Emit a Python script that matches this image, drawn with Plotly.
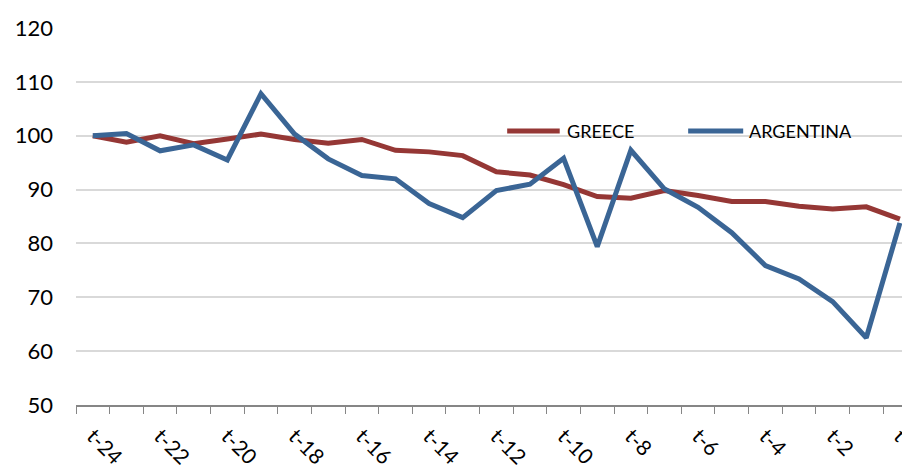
import plotly.graph_objects as go

periods = [f"t-{k}" for k in range(24, 0, -1)] + ["t"]

greece = [100.0, 98.8, 100.0, 98.5, 99.4, 100.3, 99.3, 98.6, 99.3, 97.3, 97.0, 96.3,
          93.3, 92.7, 90.9, 88.7, 88.4, 89.8, 88.9, 87.8, 87.8, 86.9, 86.4, 86.8, 84.5]
argentina = [100.0, 100.4, 97.2, 98.3, 95.5, 107.8, 100.3, 95.7, 92.6, 92.0, 87.4, 84.8,
             89.8, 91.0, 95.8, 79.4, 97.3, 90.1, 86.7, 82.0, 75.9, 73.4, 69.2, 62.5, 83.8]

series = [("GREECE", greece, "#953735"), ("ARGENTINA", argentina, "#3a6595")]

xs = list(range(len(periods)))
fig = go.Figure()
for name, vals, color in series:
    fig.add_trace(go.Scatter(x=xs, y=vals, mode="lines", name=name,
                             line=dict(color=color, width=5)))

# page body has an 8px margin, so the figure is shifted up/left by 8px
fig.update_layout(
    width=902, height=460,
    margin=dict(l=68, r=0, t=20, b=63),
    paper_bgcolor="white", plot_bgcolor="white",
    showlegend=False,
    font=dict(family="Lato", color="#000000"),
)

fig.update_yaxes(
    range=[50, 120], dtick=10, showgrid=True, gridcolor="#d9d9d9", gridwidth=1.5,
    zeroline=False, showline=False, ticks="", ticklabelstandoff=22,
    tickfont=dict(size=22), automargin=False,
)

fig.update_xaxes(
    range=[-0.5, 24.3], tickvals=xs[::2], ticktext=periods[::2], tickangle=45,
    showgrid=False, zeroline=False, showline=True, linecolor="#868686", linewidth=1.5,
    ticks="outside", ticklen=7, tickcolor="rgba(0,0,0,0)", ticklabelstandoff=2,
    ticklabeloverflow="allow", tickfont=dict(size=21), automargin=False,
    minor=dict(ticks="outside", ticklen=7, tickcolor="#868686", tickwidth=1,
               tick0=0.5, dtick=1, showgrid=False),
)

# legend drawn by hand to match the long line samples
leg_y = 0.727
leg_items = [(0.517, 0.580, 0.586), (0.734, 0.800, 0.805)]
for (name, _, color), (x0, x1, xt) in zip(series, leg_items):
    fig.add_shape(type="line", xref="paper", yref="paper", x0=x0, x1=x1, y0=leg_y, y1=leg_y,
                  line=dict(color=color, width=5))
    fig.add_annotation(xref="paper", yref="paper", x=xt, y=leg_y, text=name, showarrow=False,
                       xanchor="left", yanchor="middle", font=dict(size=18, color="#000000"))

fig.write_html("out.html")
